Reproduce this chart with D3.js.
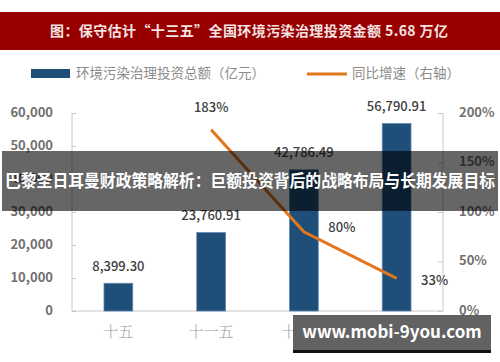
<!DOCTYPE html>
<html>
<head>
<meta charset="utf-8">
<script src="https://cdn.jsdelivr.net/npm/d3@7"></script>
<style>
  body { margin: 0; background: #fff; }
  svg { display: block; font-family: "Noto Sans CJK SC", "Noto Sans", sans-serif; }
</style>
</head>
<body>
<div id="chart"></div>
<script>
const categories = ["十五", "十一五", "十二五", "十三五"];
const investment = [8399.30, 23760.91, 42786.49, 56790.91];
const growth = [null, 1.83, 0.80, 0.33];
const growthLabels = ["", "183%", "80%", "33%"];
const leftTicks = [0, 10000, 20000, 30000, 40000, 50000, 60000];
const rightTicks = [0, 0.5, 1, 1.5, 2];

const width = 500, height = 362;
const margin = { top: 113, right: 57, bottom: 51, left: 72 };
const innerW = width - margin.left - margin.right;
const innerH = height - margin.top - margin.bottom;

const svg = d3.select("#chart")
  .append("svg")
    .attr("width", width)
    .attr("height", height);

// title band
svg.append("rect")
  .attr("x", 0).attr("y", 12)
  .attr("width", width).attr("height", 38)
  .attr("fill", "#980000");
svg.append("text")
  .text("图：保守估计“十三五”全国环境污染治理投资金额 5.68 万亿")
  .attr("x", 249).attr("y", 32)
  .attr("text-anchor", "middle")
  .attr("dominant-baseline", "middle")
  .attr("textLength", 398)
  .attr("lengthAdjust", "spacing")
  .style("font-size", "14px")
  .style("font-weight", 700)
  .style("fill", "#f3e3e3");

// legend
const legend = svg.append("g");
legend.append("rect")
  .attr("x", 31).attr("y", 69).attr("width", 39).attr("height", 9)
  .attr("fill", "#1f4e79");
legend.append("text")
  .text("环境污染治理投资总额（亿元）")
  .attr("x", 76).attr("y", 74)
  .attr("dominant-baseline", "middle")
  .style("font-size", "13.5px")
  .style("fill", "#8c8c8c");
legend.append("line")
  .attr("x1", 307).attr("x2", 347).attr("y1", 74).attr("y2", 74)
  .attr("stroke", "#e0771c").attr("stroke-width", 3);
legend.append("text")
  .text("同比增速（右轴）")
  .attr("x", 352).attr("y", 74)
  .attr("dominant-baseline", "middle")
  .style("font-size", "13.5px")
  .style("fill", "#8c8c8c");

const g = svg.append("g")
  .attr("transform", `translate(${margin.left}, ${margin.top})`);

const x = d3.scaleBand()
  .domain(categories)
  .range([0, innerW])
  .paddingInner(0.69)
  .paddingOuter(0.345);

const y = d3.scaleLinear().domain([0, 60000]).range([innerH, 0]);
const y2 = d3.scaleLinear().domain([0, 2]).range([innerH, 0]);

// left axis
const leftAxis = g.append("g")
  .call(d3.axisRight(y).tickValues(leftTicks).tickSize(4).tickFormat(""));
leftAxis.select(".domain").attr("stroke", "#c8c8c8").attr("d", `M0,0V${innerH}`);
leftAxis.selectAll(".tick line").attr("stroke", "#c8c8c8");
g.append("g").selectAll("text")
  .data(leftTicks)
  .join("text")
    .text(d => d3.format(",")(d))
    .attr("x", -19)
    .attr("y", d => y(d))
    .attr("text-anchor", "end")
    .attr("dominant-baseline", "middle")
    .style("font-size", "13px")
    .style("font-weight", 600)
    .style("fill", "#707070");

// right axis
const rightAxis = g.append("g")
  .attr("transform", `translate(${innerW}, 0)`)
  .call(d3.axisLeft(y2).tickValues(rightTicks).tickSize(5).tickFormat(""));
rightAxis.select(".domain").attr("stroke", "#c8c8c8").attr("d", `M0,0V${innerH}`);
rightAxis.selectAll(".tick line").attr("stroke", "#c8c8c8");
g.append("g").selectAll("text")
  .data(rightTicks)
  .join("text")
    .text(d => d3.format(".0%")(d))
    .attr("x", innerW + 16)
    .attr("y", d => y2(d))
    .attr("dominant-baseline", "middle")
    .style("font-size", "13px")
    .style("font-weight", 600)
    .style("fill", "#707070");

// baseline
g.append("line")
  .attr("x1", 0).attr("x2", innerW)
  .attr("y1", innerH).attr("y2", innerH)
  .attr("stroke", "#c8c8c8");

// x labels
g.append("g").selectAll("text")
  .data(categories)
  .join("text")
    .text(d => d)
    .attr("x", d => x(d) + x.bandwidth() / 2)
    .attr("y", innerH + 22)
    .attr("text-anchor", "middle")
    .attr("dominant-baseline", "middle")
    .style("font-family", "'Noto Serif CJK SC', 'Noto Sans CJK SC', serif")
    .style("font-size", "15px")
    .style("font-weight", 300)
    .style("fill", "#a0a0a0");

// bars
g.append("g").selectAll("rect")
  .data(investment)
  .join("rect")
    .attr("x", (d, i) => x(categories[i]))
    .attr("y", d => y(d))
    .attr("width", x.bandwidth())
    .attr("height", d => innerH - y(d))
    .attr("fill", "#1f4e79")
    .attr("stroke", "#5f86ad")
    .attr("stroke-width", 0.8);

g.append("g").selectAll("text")
  .data(investment)
  .join("text")
    .text(d => d3.format(",.2f")(d))
    .attr("x", (d, i) => x(categories[i]) + x.bandwidth() / 2)
    .attr("y", d => y(d) - 16)
    .attr("text-anchor", "middle")
    .attr("dominant-baseline", "middle")
    .style("font-size", "13px")
    .style("font-weight", 500)
    .style("fill", "#404040");

// growth line
const lineData = growth.map((v, i) => ({ cat: categories[i], v, label: growthLabels[i] }))
  .filter(d => d.v !== null);
const lineGen = d3.line()
  .x(d => x(d.cat) + x.bandwidth() / 2)
  .y(d => y2(d.v));
g.append("path")
  .datum(lineData)
  .attr("d", lineGen)
  .attr("fill", "none")
  .attr("stroke", "#e0771c")
  .attr("stroke-width", 3);

const labelOffsets = [[0, -21], [38, -3], [38, 3]];
g.append("g").selectAll("text")
  .data(lineData)
  .join("text")
    .text(d => d.label)
    .attr("x", (d, i) => x(d.cat) + x.bandwidth() / 2 + labelOffsets[i][0])
    .attr("y", (d, i) => y2(d.v) + labelOffsets[i][1])
    .attr("text-anchor", "middle")
    .attr("dominant-baseline", "middle")
    .style("font-size", "13px")
    .style("font-weight", 500)
    .style("fill", "#404040");

// overlay banner
svg.append("rect")
  .attr("x", 2).attr("y", 151)
  .attr("width", 496).attr("height", 60)
  .attr("fill", "#000").attr("fill-opacity", 0.6);
svg.append("text")
  .text("巴黎圣日耳曼财政策略解析：巨额投资背后的战略布局与长期发展目标")
  .attr("x", 250).attr("y", 183)
  .attr("text-anchor", "middle")
  .attr("dominant-baseline", "middle")
  .attr("textLength", 490)
  .attr("lengthAdjust", "spacingAndGlyphs")
  .style("font-size", "16.5px")
  .style("font-weight", 700)
  .style("fill", "#fff");

// watermark
svg.append("rect")
  .attr("x", 293).attr("y", 315)
  .attr("width", 198).attr("height", 35)
  .attr("fill", "#555").attr("fill-opacity", 0.92);
svg.append("rect")
  .attr("x", 293).attr("y", 350)
  .attr("width", 198).attr("height", 3)
  .attr("fill", "#111");
svg.append("text")
  .text("www.mobi-9you.com")
  .attr("x", 392).attr("y", 333)
  .attr("text-anchor", "middle")
  .attr("dominant-baseline", "middle")
  .style("font-size", "17px")
  .style("font-weight", 700)
  .style("fill", "#fff");
</script>
</body>
</html>
